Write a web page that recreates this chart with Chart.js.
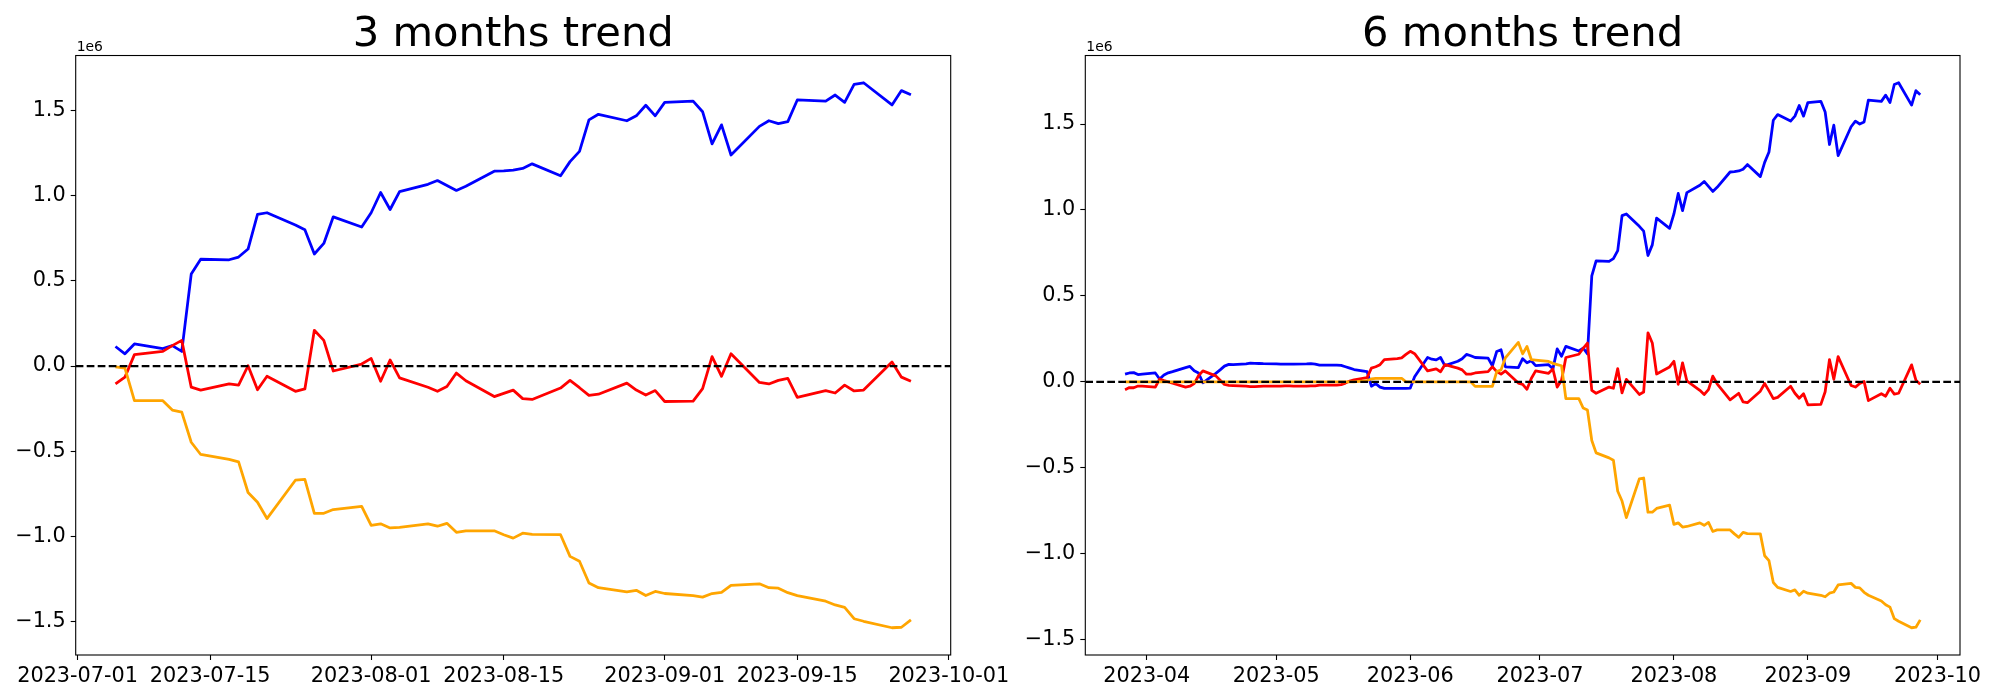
<!DOCTYPE html>
<html>
<head>
<meta charset="utf-8">
<script src="https://cdn.jsdelivr.net/npm/chart.js@4.4.0/dist/chart.umd.min.js"></script>
<style>
	body { margin: 0; background: #fff; }
	#wrap { position: relative; width: 2000px; height: 700px; }
	canvas { position: absolute; top: 0; }
</style>
</head>
<body>
<div id="wrap">
	<canvas id="trend_3m" width="1015" height="700" style="left:0px"></canvas>
	<canvas id="trend_6m" width="985" height="700" style="left:1015px"></canvas>
</div>
<script>
// all values in units of 1e6

const dates_3m = [
	'2023-07-05', '2023-07-06', '2023-07-07',
	'2023-07-10', '2023-07-11', '2023-07-12', '2023-07-13', '2023-07-14',
	'2023-07-17', '2023-07-18', '2023-07-19', '2023-07-20', '2023-07-21',
	'2023-07-24', '2023-07-25', '2023-07-26', '2023-07-27', '2023-07-28',
	'2023-07-31', '2023-08-01', '2023-08-02', '2023-08-03', '2023-08-04',
	'2023-08-07', '2023-08-08', '2023-08-09', '2023-08-10', '2023-08-11',
	'2023-08-14', '2023-08-15', '2023-08-16', '2023-08-17', '2023-08-18',
	'2023-08-21', '2023-08-22', '2023-08-23', '2023-08-24', '2023-08-25',
	'2023-08-28', '2023-08-29', '2023-08-30', '2023-08-31', '2023-09-01',
	'2023-09-04', '2023-09-05', '2023-09-06', '2023-09-07', '2023-09-08',
	'2023-09-11', '2023-09-12', '2023-09-13', '2023-09-14', '2023-09-15',
	'2023-09-18', '2023-09-19', '2023-09-20', '2023-09-21', '2023-09-22',
	'2023-09-25', '2023-09-26', '2023-09-27'
];

const blue_3m = [
	0.115, 0.072, 0.13,
	0.103, 0.12, 0.086, 0.54, 0.627,
	0.624, 0.64, 0.687, 0.89, 0.90,
	0.828, 0.80, 0.658, 0.72, 0.876,
	0.816, 0.90, 1.019, 0.919, 1.024,
	1.067, 1.089, 1.06, 1.031, 1.055,
	1.144, 1.146, 1.15, 1.16, 1.187,
	1.117, 1.20, 1.26, 1.445, 1.478,
	1.44, 1.469, 1.531, 1.469, 1.548,
	1.555, 1.493, 1.304, 1.416, 1.239,
	1.407, 1.44, 1.423, 1.435, 1.562,
	1.555, 1.591, 1.548, 1.653, 1.663,
	1.533, 1.617, 1.593
];

const red_3m = [
	-0.105, -0.065, 0.067,
	0.086, 0.12, 0.151, -0.124, -0.141,
	-0.105, -0.112, 0.002, -0.139, -0.06,
	-0.148, -0.134, 0.21, 0.151, -0.029,
	0.012, 0.045, -0.089, 0.036, -0.069,
	-0.124, -0.148, -0.12, -0.041, -0.086,
	-0.179, -0.16, -0.141, -0.191, -0.196,
	-0.129, -0.084, -0.127, -0.172, -0.165,
	-0.10, -0.141, -0.17, -0.144, -0.208,
	-0.206, -0.132, 0.055, -0.06, 0.072,
	-0.096, -0.105, -0.084, -0.072, -0.184,
	-0.144, -0.158, -0.112, -0.146, -0.141,
	0.024, -0.065, -0.089
];

const orange_3m = [
	-0.005, -0.012, -0.203,
	-0.203, -0.258, -0.27, -0.447, -0.519,
	-0.548, -0.562, -0.742, -0.799, -0.895,
	-0.67, -0.665, -0.864, -0.864, -0.842,
	-0.823, -0.935, -0.926, -0.95, -0.947,
	-0.926, -0.94, -0.923, -0.976, -0.967,
	-0.967, -0.99, -1.01, -0.981, -0.988,
	-0.99, -1.117, -1.146, -1.273, -1.301,
	-1.325, -1.316, -1.347, -1.323, -1.335,
	-1.347, -1.356, -1.335, -1.328, -1.287,
	-1.278, -1.301, -1.304, -1.33, -1.347,
	-1.38, -1.402, -1.416, -1.483, -1.498,
	-1.536, -1.533, -1.49
];

const dates_6m_head = [
	'2023-03-27', '2023-03-28', '2023-03-29', '2023-03-30', '2023-03-31',
	'2023-04-03', '2023-04-04', '2023-04-05', '2023-04-06', '2023-04-07',
	'2023-04-10', '2023-04-11', '2023-04-12', '2023-04-13', '2023-04-14',
	'2023-04-17', '2023-04-18', '2023-04-19', '2023-04-20', '2023-04-21',
	'2023-04-24', '2023-04-25', '2023-04-26', '2023-04-27', '2023-04-28',
	'2023-05-01', '2023-05-02', '2023-05-03', '2023-05-04', '2023-05-05',
	'2023-05-08', '2023-05-09', '2023-05-10', '2023-05-11', '2023-05-12',
	'2023-05-15', '2023-05-16', '2023-05-17', '2023-05-18', '2023-05-19',
	'2023-05-22', '2023-05-23', '2023-05-24', '2023-05-25', '2023-05-26',
	'2023-05-29', '2023-05-30', '2023-05-31', '2023-06-01', '2023-06-02',
	'2023-06-05', '2023-06-06', '2023-06-07', '2023-06-08', '2023-06-09',
	'2023-06-12', '2023-06-13', '2023-06-14', '2023-06-15', '2023-06-16',
	'2023-06-19', '2023-06-20', '2023-06-21', '2023-06-22', '2023-06-23',
	'2023-06-26', '2023-06-27', '2023-06-28', '2023-06-29', '2023-06-30',
	'2023-07-03', '2023-07-04'
];
const dates_6m = dates_6m_head.concat(dates_3m);

const blue_6m = [
	0.045, 0.052, 0.054, 0.043, 0.045,
	0.052, 0.017, 0.04, 0.053, 0.06,
	0.083, 0.09, 0.065, 0.052, -0.005,
	0.05, 0.07, 0.092, 0.102, 0.101,
	0.105, 0.109, 0.108, 0.107, 0.106,
	0.105, 0.104, 0.104, 0.103, 0.104,
	0.105, 0.106, 0.104, 0.098, 0.097,
	0.097, 0.096, 0.088, 0.08, 0.072,
	0.06, -0.025, -0.01, -0.03, -0.038,
	-0.038, -0.038, -0.037, -0.036, 0.03,
	0.142, 0.132, 0.128, 0.142, 0.095,
	0.12, 0.135, 0.16, 0.152, 0.142,
	0.138, 0.094, 0.177, 0.187, 0.088,
	0.083, 0.135, 0.111, 0.123, 0.095,
	0.1, 0.076,
	0.192, 0.149, 0.207,
	0.18, 0.197, 0.163, 0.617, 0.704,
	0.701, 0.717, 0.764, 0.967, 0.977,
	0.905, 0.877, 0.735, 0.797, 0.953,
	0.893, 0.977, 1.096, 0.996, 1.101,
	1.144, 1.166, 1.137, 1.108, 1.132,
	1.221, 1.223, 1.227, 1.237, 1.264,
	1.194, 1.277, 1.337, 1.522, 1.555,
	1.517, 1.546, 1.608, 1.546, 1.625,
	1.632, 1.57, 1.381, 1.493, 1.316,
	1.484, 1.517, 1.5, 1.512, 1.639,
	1.632, 1.668, 1.625, 1.73, 1.74,
	1.61, 1.694, 1.67
];

const red_6m = [
	-0.045, -0.033, -0.034, -0.024, -0.025,
	-0.03, 0.017, 0.008, 0.0, -0.008,
	-0.03, -0.025, -0.01, 0.036, 0.064,
	0.035, 0.01, -0.015, -0.02, -0.021,
	-0.025, -0.028, -0.027, -0.026, -0.025,
	-0.024, -0.024, -0.023, -0.023, -0.024,
	-0.024, -0.023, -0.023, -0.019, -0.019,
	-0.019, -0.016, -0.007, 0.005, 0.012,
	0.025, 0.08, 0.088, 0.1, 0.13,
	0.136, 0.14, 0.16, 0.178, 0.164,
	0.064, 0.07, 0.076, 0.059, 0.1,
	0.08, 0.07, 0.045, 0.045, 0.052,
	0.06, 0.088, 0.06, 0.045, 0.064,
	-0.007, -0.014, -0.043, 0.02, 0.064,
	0.05, 0.075,
	-0.03, 0.01, 0.142,
	0.161, 0.195, 0.226, -0.049, -0.066,
	-0.03, -0.037, 0.077, -0.064, 0.015,
	-0.073, -0.059, 0.285, 0.226, 0.046,
	0.087, 0.12, -0.014, 0.111, 0.006,
	-0.049, -0.073, -0.045, 0.034, -0.011,
	-0.104, -0.085, -0.066, -0.116, -0.121,
	-0.054, -0.009, -0.052, -0.097, -0.09,
	-0.025, -0.066, -0.095, -0.069, -0.133,
	-0.131, -0.057, 0.13, 0.015, 0.147,
	-0.021, -0.03, -0.009, 0.003, -0.109,
	-0.069, -0.083, -0.037, -0.071, -0.066,
	0.099, 0.01, -0.014
];

const orange_6m = [
	0, 0, 0, 0, 0,
	0, 0, 0, 0, 0,
	0, 0, 0, 0, 0,
	0, 0, 0, 0, 0,
	0, 0, 0, 0, 0,
	0, 0, 0, 0, 0,
	0, 0, 0, 0, 0,
	0, 0, 0, 0, 0,
	0.008, 0.017, 0.02, 0.021, 0.021,
	0.021, 0.021, 0, 0, 0,
	0, 0, 0, 0, 0,
	0, 0, 0, 0, -0.026,
	-0.026, -0.026, 0.06, 0.07, 0.14,
	0.23, 0.163, 0.206, 0.13, 0.127,
	0.119, 0.108,
	0.101, 0.094, -0.097,
	-0.097, -0.152, -0.164, -0.341, -0.413,
	-0.442, -0.456, -0.636, -0.693, -0.789,
	-0.564, -0.559, -0.758, -0.758, -0.736,
	-0.717, -0.829, -0.82, -0.844, -0.841,
	-0.82, -0.834, -0.817, -0.87, -0.861,
	-0.861, -0.884, -0.904, -0.875, -0.882,
	-0.884, -1.011, -1.04, -1.167, -1.195,
	-1.219, -1.21, -1.241, -1.217, -1.229,
	-1.241, -1.25, -1.229, -1.222, -1.181,
	-1.172, -1.195, -1.198, -1.224, -1.241,
	-1.274, -1.296, -1.31, -1.377, -1.392,
	-1.43, -1.427, -1.384
];

const xticks_3m = ['2023-07-01', '2023-07-15', '2023-08-01', '2023-08-15', '2023-09-01', '2023-09-15', '2023-10-01'];
const xticks_6m = ['2023-04', '2023-05', '2023-06', '2023-07', '2023-08', '2023-09', '2023-10'];
const yticks = [-1.5, -1.0, -0.5, 0.0, 0.5, 1.0, 1.5];

const tick_font = { family: 'DejaVu Sans', size: 20.8 };

const frame_plugin = {
	id: 'frame',
	afterDraw(chart) {
		const ctx = chart.ctx;
		const a = chart.chartArea;
		ctx.save();
		ctx.strokeStyle = '#000';
		ctx.lineWidth = 1.1;
		ctx.strokeRect(a.left, a.top, a.right - a.left, a.bottom - a.top);
		ctx.fillStyle = '#000';
		ctx.font = '13.9px "DejaVu Sans"';
		ctx.textBaseline = 'alphabetic';
		ctx.fillText('1e6', a.left + 1, a.top - 4.7);
		ctx.restore();
	}
};

function to_ms(s) {
	if (s.length == 7) s = s + '-01';
	return Date.parse(s);
}

function padded_range(values, frac) {
	let lo = Math.min(...values);
	let hi = Math.max(...values);
	let m = (hi - lo) * frac;
	return [lo - m, hi + m];
}

function make_trend(canvas_id, title, dates, blue, red, orange, xticks, yaxis_width, pad_right) {
	const ctx = document.getElementById(canvas_id).getContext('2d');

	const xs = dates.map(to_ms);
	const x_range = padded_range(xs, 0.05);
	const y_range = padded_range(blue.concat(red, orange), 0.05);
	const xtick_values = xticks.map(to_ms);

	const series = (vals) => vals.map((v, i) => ({ x: xs[i], y: v }));

	const line = (data, color, width, order) => ({
		data: data,
		borderColor: color,
		borderWidth: width,
		borderJoinStyle: 'round',
		pointRadius: 0,
		tension: 0,
		order: order
	});

	const zero_line = line([{ x: x_range[0], y: 0 }, { x: x_range[1], y: 0 }], '#000', 2.1, 0);
	zero_line.borderDash = [7.7, 3.3];

	return new Chart(ctx, {
		type: 'line',
		data: {
			datasets: [
				line(series(blue), 'blue', 2.78, 3),
				line(series(red), 'red', 2.78, 2),
				line(series(orange), 'orange', 2.78, 1),
				zero_line
			]
		},
		options: {
			responsive: false,
			animation: false,
			devicePixelRatio: 1,
			events: [],
			layout: { padding: { top: 0, right: pad_right, left: 0, bottom: 0 } },
			plugins: {
				legend: { display: false },
				tooltip: { enabled: false },
				title: {
					display: true,
					fullSize: false,
					text: title,
					color: '#000',
					font: { family: 'DejaVu Sans', size: 41.7, weight: 'normal', lineHeight: 0.95 },
					padding: { top: 15.5, bottom: 0.4 }
				}
			},
			scales: {
				x: {
					type: 'linear',
					min: x_range[0],
					max: x_range[1],
					afterBuildTicks: (s) => { s.ticks = xtick_values.map(v => ({ value: v })); },
					afterFit: (s) => { s.height = 45; },
					grid: { display: true, drawOnChartArea: false, drawTicks: true, tickLength: 5, tickColor: '#000', tickWidth: 1.1 },
					border: { display: false },
					ticks: {
						autoSkip: false,
						maxRotation: 0,
						minRotation: 0,
						color: '#000',
						font: tick_font,
						padding: 4,
						callback: (v, i) => xticks[i]
					}
				},
				y: {
					type: 'linear',
					min: y_range[0],
					max: y_range[1],
					afterBuildTicks: (s) => { s.ticks = yticks.map(v => ({ value: v })); },
					afterFit: (s) => { s.width = yaxis_width; },
					grid: { display: true, drawOnChartArea: false, drawTicks: true, tickLength: 5, tickColor: '#000', tickWidth: 1.1 },
					border: { display: false },
					ticks: {
						color: '#000',
						font: tick_font,
						padding: 5,
						callback: (v) => v.toFixed(1).replace('-', '\u2212')
					}
				}
			}
		},
		plugins: [frame_plugin]
	});
}

make_trend('trend_3m', '3 months trend', dates_3m, blue_3m, red_3m, orange_3m, xticks_3m, 75.7, 64.3);
make_trend('trend_6m', '6 months trend', dates_6m, blue_6m, red_6m, orange_6m, xticks_6m, 70.3, 40);
</script>
</body>
</html>
